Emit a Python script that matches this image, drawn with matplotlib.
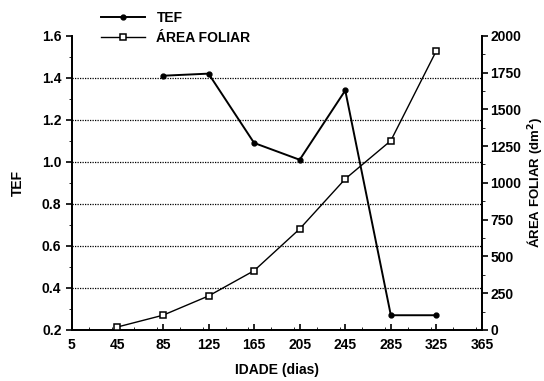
import matplotlib.pyplot as plt
from matplotlib.ticker import MultipleLocator
from matplotlib.lines import Line2D

plt.rcParams['font.family'] = ['Liberation Sans', 'DejaVu Sans']
plt.rcParams['font.weight'] = 'bold'

idade_tef = [85, 125, 165, 205, 245, 285, 325]
tef = [1.41, 1.42, 1.09, 1.01, 1.34, 0.27, 0.27]

idade_area = [45, 85, 125, 165, 205, 245, 285, 325]
area_foliar = [20, 100, 231, 403, 687, 1027, 1287, 1899]

x_ticks = [5, 45, 85, 125, 165, 205, 245, 285, 325, 365]


def main():
    fig = plt.figure(figsize=(5.44, 3.81), dpi=100)
    ax = fig.add_axes([0.132, 0.134, 0.754, 0.772])
    ax2 = ax.twinx()

    ax.plot(idade_tef, tef, '-o', color='black', lw=1.4, ms=3.5, label='TEF', zorder=3)
    ax2.plot(idade_area, area_foliar, '-s', color='black', lw=1.0, ms=5,
             mfc='white', mew=1.1, label='ÁREA FOLIAR', zorder=3)

    ax.set_xlim(5, 365)
    ax.set_ylim(0.2, 1.6)
    ax2.set_ylim(0, 2000)

    ax.set_xticks(x_ticks)
    ax.xaxis.set_minor_locator(MultipleLocator(20))
    ax.yaxis.set_major_locator(MultipleLocator(0.2))
    ax.yaxis.set_minor_locator(MultipleLocator(0.1))
    ax2.yaxis.set_major_locator(MultipleLocator(250))
    ax2.yaxis.set_minor_locator(MultipleLocator(125))

    # dotted horizontal grid on the TEF scale
    for y in [0.4, 0.6, 0.8, 1.0, 1.2, 1.4]:
        ax.axhline(y, color='black', lw=0.9, ls=(0, (1, 1)), zorder=1)

    for a in (ax, ax2):
        a.spines['top'].set_visible(False)
        for s in a.spines.values():
            s.set_linewidth(1.3)
    ax.tick_params(axis='x', direction='in', length=4, width=1.2, labelsize=10, pad=6)
    ax.tick_params(axis='x', which='minor', direction='in', length=2)
    ax.tick_params(axis='y', direction='out', length=4, width=1.2, labelsize=10)
    ax.tick_params(axis='y', which='minor', direction='out', length=2)
    ax2.tick_params(axis='y', direction='out', length=4, width=1.2, labelsize=10, pad=2)
    ax2.tick_params(axis='y', which='minor', direction='out', length=2)

    ax.set_yticklabels([f"{v:.1f}" for v in ax.get_yticks()])

    ax.set_xlabel('IDADE (dias)', fontsize=10, fontweight='bold', labelpad=8)
    ax.set_ylabel('TEF', fontsize=10, fontweight='bold', labelpad=12)
    ax2.set_ylabel('ÁREA FOLIAR (dm$^\\mathbf{2}$)', fontsize=9.5, fontweight='bold', labelpad=3)

    handles = [
        Line2D([], [], color='black', lw=1.4, marker='o', ms=3.5),
        Line2D([], [], color='black', lw=1.0, marker='s', ms=5, mfc='white', mew=1.1),
    ]
    fig.legend(handles, ['TEF', 'ÁREA FOLIAR'], loc='upper left',
               bbox_to_anchor=(0.165, 1.0), frameon=False, fontsize=10,
               handlelength=3.2, labelspacing=0.45, borderpad=0.3)

    fig.savefig('out.png', dpi=100)


if __name__ == '__main__':
    main()
